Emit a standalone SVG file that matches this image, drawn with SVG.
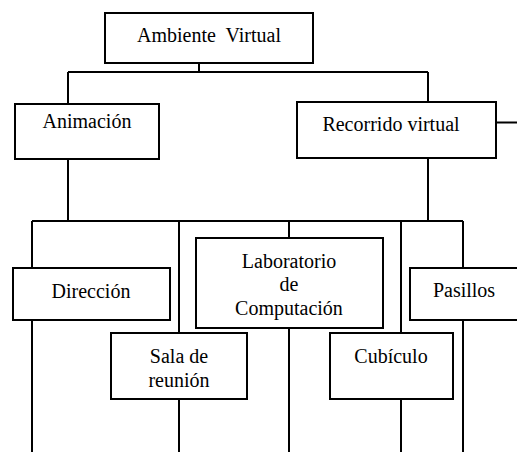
<svg xmlns="http://www.w3.org/2000/svg" width="517" height="452" viewBox="0 0 517 452">
<style>
.box{fill:#fff;stroke:#000;stroke-width:2}
.ln{fill:none;stroke:#000;stroke-width:2}
</style>
<rect width="517" height="452" fill="#fff"/>
<g id="connectors" class="ln">
<path d="M199 63V72M68 72H428M68 72V104M428 72V102"/>
<path d="M68 159V221M428 158V221M32 221H463"/>
<path d="M32 221V268M179 221V333M289 221V238M401 221V333M463 221V268"/>
<path d="M32 320V452M179 399V452M289 328V452M401 399V452M463 320V452"/>
<path d="M492 122.5H517"/>
</g>
<g font-family="Times New Roman, Liberation Serif, DejaVu Serif, serif" font-size="20" text-anchor="middle" fill="#000">
<g id="ambiente"><rect class="box" x="105" y="13" width="208" height="50"/><text x="209" y="42" xml:space="preserve">Ambiente  Virtual</text></g>
<g id="animacion"><rect class="box" x="15" y="104" width="144" height="55"/><text x="87" y="128">Animación</text></g>
<g id="recorrido"><rect class="box" x="297" y="102" width="199" height="56"/><text x="391" y="131">Recorrido virtual</text></g>
<g id="direccion"><rect class="box" x="13" y="268" width="157" height="52"/><text x="91" y="298">Dirección</text></g>
<g id="laboratorio"><rect class="box" x="196" y="238" width="187" height="90"/><text x="289" y="268">Laboratorio</text><text x="289" y="291">de</text><text x="289" y="315">Computación</text></g>
<g id="pasillos"><rect class="box" x="410" y="268" width="110" height="52"/><text x="464" y="297">Pasillos</text></g>
<g id="sala"><rect class="box" x="111" y="333" width="136" height="66"/><text x="179" y="363">Sala de</text><text x="179" y="387">reunión</text></g>
<g id="cubiculo"><rect class="box" x="330" y="333" width="123" height="66"/><text x="391" y="363">Cubículo</text></g>
</g>
</svg>
